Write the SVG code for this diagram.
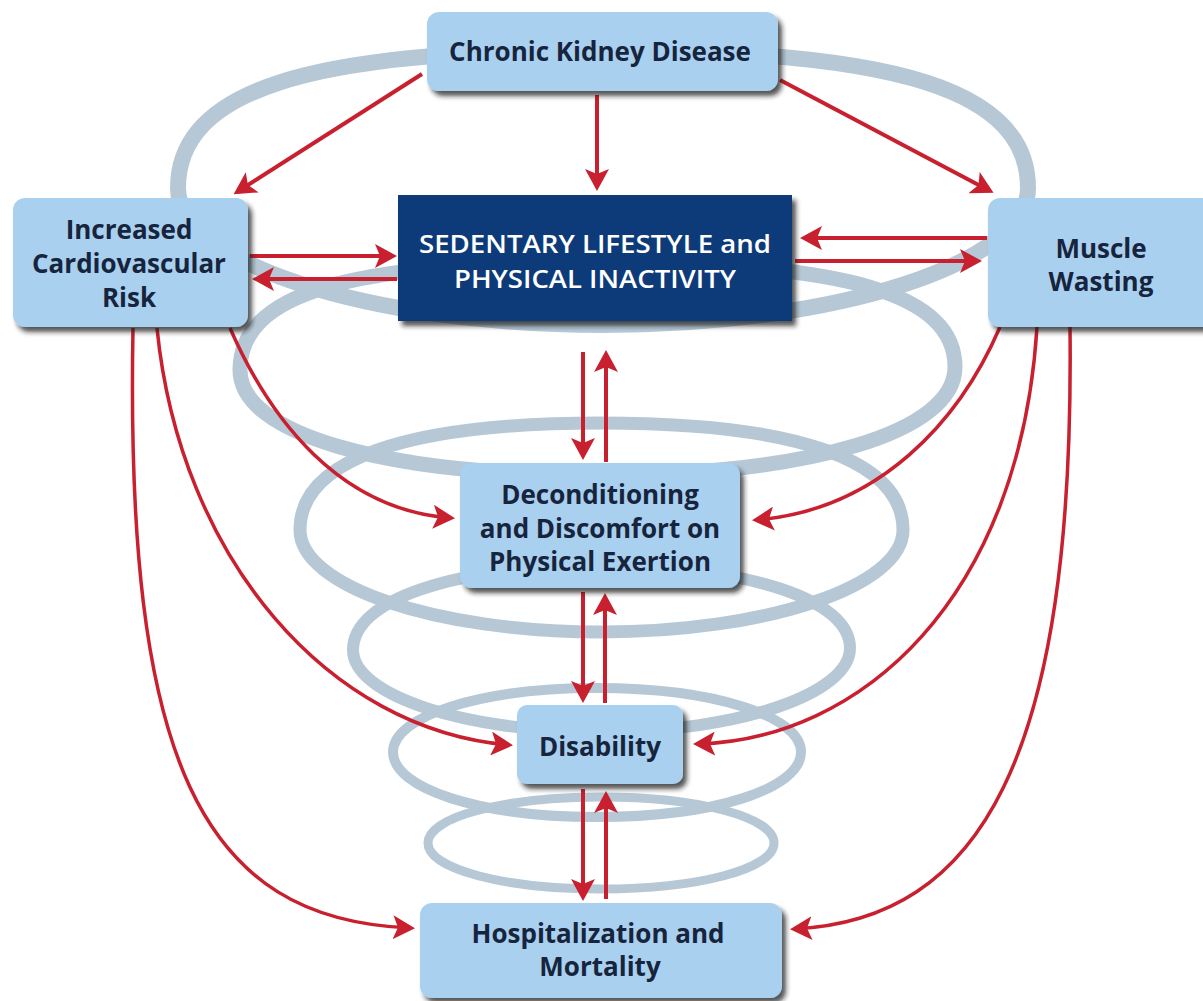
<svg xmlns="http://www.w3.org/2000/svg" width="1203" height="1001" viewBox="0 0 1203 1001">
<defs>
<style>
.coil{fill:none;stroke:#b6c8d6}
.box{fill:#a9d0ee;filter:url(#sh)}
.dark{fill:#0b3a7a;filter:url(#sh)}
.t{font-family:"Open Sans","Noto Sans","DejaVu Sans",sans-serif;font-weight:700;font-size:26px;fill:#17243d;text-anchor:middle}
.tw{font-family:"Open Sans","Noto Sans","DejaVu Sans",sans-serif;font-weight:600;font-size:26px;fill:#ffffff;text-anchor:middle}
.c{fill:none;stroke:#c8202f;stroke-width:4;marker-end:url(#ah)}
.cc{fill:none;stroke:#c8202f;stroke-width:3.5;marker-end:url(#ah)}
</style>
<filter id="sh" x="-10%" y="-10%" width="130%" height="140%">
<feDropShadow dx="4" dy="5" stdDeviation="2.5" flood-color="#1c1c1c" flood-opacity="0.75"/>
</filter>
<marker id="ah" viewBox="0 0 22 24" refX="18" refY="12" markerWidth="22" markerHeight="24" markerUnits="userSpaceOnUse" orient="auto">
<path d="M0,0 L22,12 L0,24 L5,12 Z" fill="#c8202f"/>
</marker>
</defs>
<rect width="1203" height="1001" fill="#ffffff"/>
<g id="coil">
<path class="coil" stroke-width="16" d="M178,188 C178,91 306,50 603,50 C900,50 1028,91 1028,188 C1028,263 837,325 603,325 C369,325 178,263 178,188 Z"/>
<path class="coil" stroke-width="15" d="M240,370 C240,294 347,262 597,262 C847,262 955,294 955,367 C955,432 811,475 597,475 C383,475 240,434 240,370 Z"/>
<path class="coil" stroke-width="13" d="M300,530 C300,460 405,423 601,423 C797,423 903,460 903,530 C903,586 767,632 601,632 C435,632 300,586 300,530 Z"/>
<path class="coil" stroke-width="12" d="M353,650 C353,600 452,566 601,566 C750,566 850,600 850,648 C850,694 738,732 601,732 C464,732 353,695 353,650 Z"/>
<path class="coil" stroke-width="10" d="M393,752 C393,716 481,688 597,688 C713,688 801,716 801,752 C801,789 713,817 597,817 C481,817 393,789 393,752 Z"/>
<path class="coil" stroke-width="9" d="M428,843 C428,817 504,797 601,797 C698,797 774,817 774,843 C774,869 698,889 601,889 C504,889 428,869 428,843 Z"/>
</g>
<g id="connectors">
<path class="c" d="M597,95 L597,187"/>
<path class="c" d="M422,74 L237,192"/>
<path class="c" d="M780,80 L990,191"/>
<path class="c" d="M250,256 L393,256"/>
<path class="c" d="M397,279 L256,279"/>
<path class="c" d="M987,238 L804,238"/>
<path class="c" d="M795,261 L978,261"/>
<path class="c" d="M583,352 L583,456"/>
<path class="c" d="M606,462 L606,354"/>
<path class="c" d="M583,592 L583,699"/>
<path class="c" d="M605,703 L605,597"/>
<path class="c" d="M583,789 L583,897"/>
<path class="c" d="M606,899 L606,795"/>
<path class="cc" d="M230,328 C270,420 340,510 451,518"/>
<path class="cc" d="M157,328 C180,560 330,730 509,745"/>
<path class="cc" d="M133,328 C125,760 200,920 411,928"/>
<path class="cc" d="M1000,327 C960,420 880,510 756,520"/>
<path class="cc" d="M1037,327 C1020,600 860,740 697,744"/>
<path class="cc" d="M1070,327 C1075,760 980,920 794,929"/>
</g>
<g id="ckd">
<rect class="box" x="427" y="12" width="351" height="79" rx="12"/>
<text class="t" x="600" y="61">Chronic Kidney Disease</text>
</g>
<g id="cvr">
<rect class="box" x="13" y="198" width="235" height="129" rx="12"/>
<text class="t" x="129" y="239">Increased</text>
<text class="t" x="129" y="273">Cardiovascular</text>
<text class="t" x="129" y="307">Risk</text>
</g>
<g id="sedentary">
<rect class="dark" x="398" y="195" width="394" height="126"/>
<text class="tw" x="595" y="253" textLength="352" lengthAdjust="spacingAndGlyphs">SEDENTARY LIFESTYLE and</text>
<text class="tw" x="595" y="288" textLength="282" lengthAdjust="spacingAndGlyphs">PHYSICAL INACTIVITY</text>
</g>
<g id="muscle">
<rect class="box" x="988" y="198" width="240" height="129" rx="12"/>
<text class="t" x="1101" y="258">Muscle</text>
<text class="t" x="1101" y="291">Wasting</text>
</g>
<g id="decon">
<rect class="box" x="460" y="463" width="280" height="125" rx="12"/>
<text class="t" x="600" y="504">Deconditioning</text>
<text class="t" x="600" y="538">and Discomfort on</text>
<text class="t" x="600" y="571">Physical Exertion</text>
</g>
<g id="disability">
<rect class="box" x="517" y="705" width="166" height="79" rx="10"/>
<text class="t" x="600" y="756">Disability</text>
</g>
<g id="hosp">
<rect class="box" x="420" y="903" width="362" height="95" rx="12"/>
<text class="t" x="598" y="943">Hospitalization and</text>
<text class="t" x="600" y="976">Mortality</text>
</g>
</svg>
